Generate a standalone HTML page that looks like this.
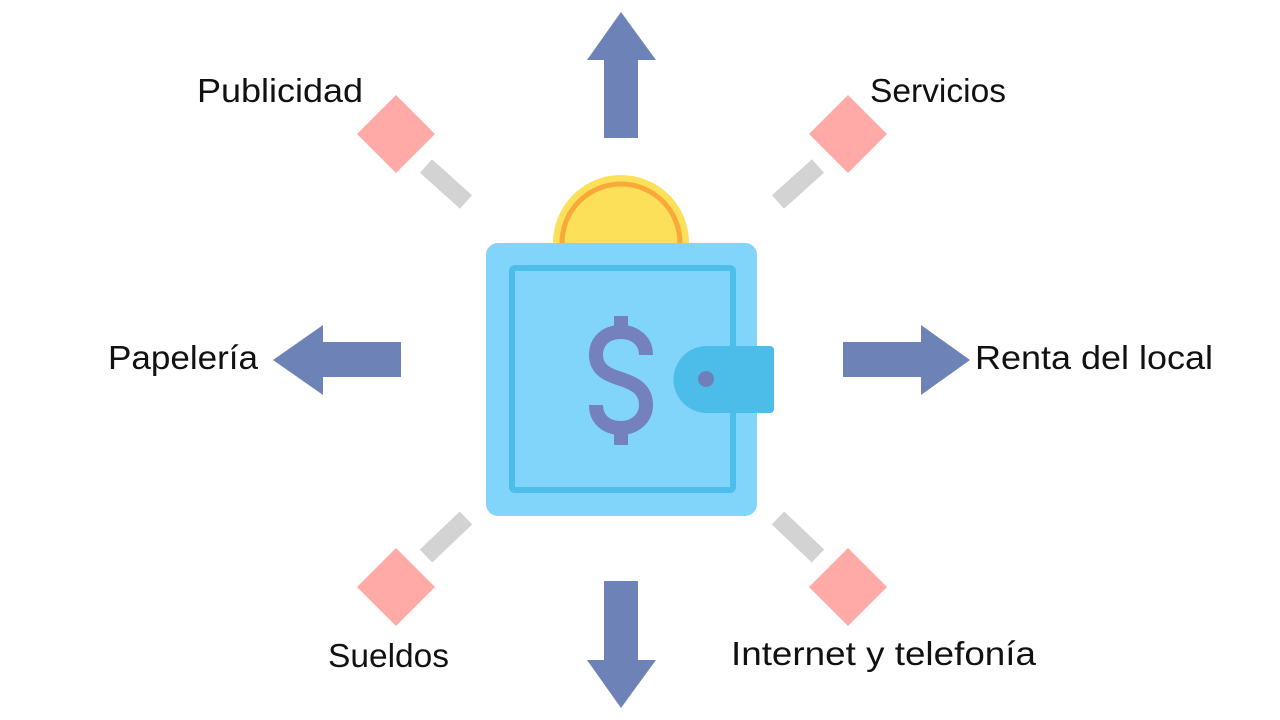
<!DOCTYPE html>
<html><head><meta charset="utf-8"><style>
html,body{margin:0;padding:0;background:#fff;}
svg{display:block;}
text{font-family:"Liberation Sans",sans-serif;font-size:33px;fill:#111;}
</style></head><body>
<svg width="1280" height="720" viewBox="0 0 1280 720">
<!-- arrows -->
<g fill="#6d83b8">
<polygon points="604,138 604,60 587,60 621,12 656,60 638,60 638,138"/>
<polygon points="604,581 604,660 587,660 621,708 656,660 638,660 638,581"/>
<polygon points="401,342 323,342 323,325 273,360 323,395 323,377 401,377"/>
<polygon points="843,342 921,342 921,325 970,360 921,395 921,377 843,377"/>
</g>
<!-- bars -->
<g stroke="#d3d3d3" stroke-width="18">
<line x1="426" y1="166" x2="466" y2="202"/>
<line x1="818" y1="166" x2="778" y2="202"/>
<line x1="466" y1="518" x2="426" y2="556"/>
<line x1="778" y1="518" x2="818" y2="556"/>
</g>
<!-- diamonds -->
<g fill="#ffaaa6">
<polygon points="396,95 435,134 396,173 357,134"/>
<polygon points="848,95 887,134 848,173 809,134"/>
<polygon points="396,548 435,587 396,626 357,587"/>
<polygon points="848,548 887,587 848,626 809,587"/>
</g>
<!-- coin -->
<circle cx="621" cy="243" r="68" fill="#fde05a"/>
<circle cx="621" cy="243" r="59" fill="none" stroke="#f9a93a" stroke-width="5"/>
<circle cx="621" cy="243" r="56" fill="#fde05a"/>
<!-- wallet -->
<rect x="486" y="243" width="271" height="273" rx="12" fill="#81d4fa"/>
<rect x="512" y="268" width="221" height="222" rx="3" fill="none" stroke="#4dbde9" stroke-width="6"/>
<path d="M707,346 H770 a4,4 0 0 1 4,4 V409 a4,4 0 0 1 -4,4 H707 a33.5,33.5 0 0 1 0,-67 Z" fill="#4bbde8"/>
<circle cx="706" cy="379" r="8" fill="#6f7fba"/>
<!-- dollar -->
<g fill="none" stroke="#7481bd" stroke-width="14">
<path d="M646,355 C646,340 634,332 621,332 C606,332 596,341 596,355 C596,370 608,375 621,379 C636,384 646,390 646,405 C646,419 634,428 621,428 C606,428 596,419 596,405"/>
<line x1="621" y1="316" x2="621" y2="334"/>
<line x1="621" y1="426" x2="621" y2="445"/>
</g>
<!-- labels -->
<text x="197" y="102" textLength="166" lengthAdjust="spacingAndGlyphs">Publicidad</text>
<text x="870" y="102" textLength="136" lengthAdjust="spacingAndGlyphs">Servicios</text>
<text x="108" y="369" textLength="150" lengthAdjust="spacingAndGlyphs">Papelería</text>
<text x="975" y="369" textLength="238" lengthAdjust="spacingAndGlyphs">Renta del local</text>
<text x="328" y="667" textLength="121" lengthAdjust="spacingAndGlyphs">Sueldos</text>
<text x="731" y="665" textLength="305" lengthAdjust="spacingAndGlyphs">Internet y telefonía</text>
</svg>
</body></html>
